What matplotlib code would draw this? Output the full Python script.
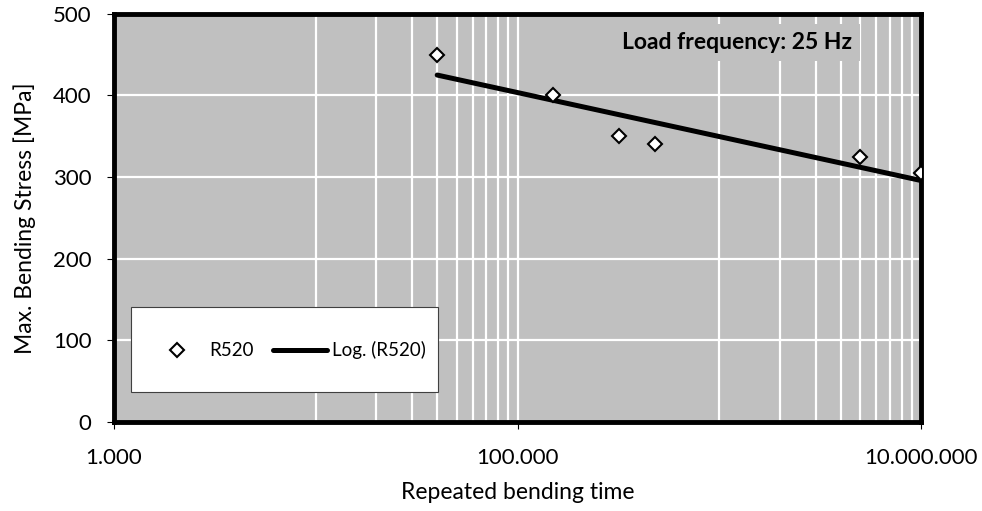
import numpy as np
import matplotlib
matplotlib.use("Agg")
import matplotlib.pyplot as plt
from matplotlib.ticker import FixedLocator, FuncFormatter, NullLocator
from matplotlib.patches import Rectangle

plt.rcParams['font.family'] = ['Lato', 'DejaVu Sans']

# data
cycles = [40000, 150000, 320000, 480000, 5000000, 10000000]
stress = [450, 400, 350, 340, 325, 305]
series_name = "R520"
note = "Load frequency: 25 Hz"

# logarithmic trend line (Excel "Log." trend)
b, a = np.polyfit(np.log(cycles), stress, 1)
xfit = np.array([min(cycles), max(cycles)])
yfit = a + b*np.log(xfit)

fig = plt.figure(figsize=(9.82, 5.11), dpi=100)
ax = fig.add_axes([0.116, 0.174, 0.822, 0.799])
ax.set_facecolor('#C0C0C0')

ax.plot(xfit, yfit, color='black', lw=3.6, solid_capstyle='round', zorder=3,
        label="Log. (" + series_name + ")")
ax.plot(cycles, stress, ls='none', marker='D', ms=7.5, mfc='white', mec='black',
        mew=1.5, zorder=4, label=series_name)

ax.set_xscale('log')
ax.set_xlim(1000, 10000000)
ax.set_ylim(0, 500)

ax.xaxis.set_major_locator(FixedLocator([1e3, 1e5, 1e7]))
ax.xaxis.set_minor_locator(FixedLocator([k*10**e for e in (4, 6) for k in range(1, 10)]))
ax.xaxis.set_major_formatter(FuncFormatter(lambda v, p: f"{int(round(v)):,}".replace(",", ".")))
ax.xaxis.set_minor_formatter(FuncFormatter(lambda v, p: ""))
ax.set_yticks([0, 100, 200, 300, 400, 500])
ax.yaxis.set_minor_locator(NullLocator())

ax.set_axisbelow(True)
ax.grid(True, which='both', axis='x', color='white', lw=1.6)
ax.grid(True, which='major', axis='y', color='white', lw=1.6)

for s in ax.spines.values():
    s.set_linewidth(3.5)
    s.set_color('black')

ax.tick_params(axis='both', which='major', direction='out', length=5, width=0.8,
               labelsize=16, colors='black')
ax.tick_params(axis='x', which='major', pad=14)
ax.tick_params(axis='y', which='major', pad=11)
ax.tick_params(axis='x', which='minor', length=0)

ax.set_xlabel("Repeated bending time", fontsize=16.5, labelpad=10)
ax.set_ylabel("Max. Bending Stress [MPa]", fontsize=16.5, labelpad=12)

ax.text(0.772, 0.9135, note, transform=ax.transAxes, ha='center', va='baseline',
        fontsize=16.5, fontweight='bold', zorder=1.5,
        bbox=dict(boxstyle='square,pad=0.35', fc='#C0C0C0', ec='none'))

# legend box
ax.add_patch(Rectangle((0.021, 0.074), 0.38, 0.208, transform=ax.transAxes,
                       fc='white', ec='#404040', lw=0.8, zorder=5))
h, l = ax.get_legend_handles_labels()
leg = ax.legend([h[1], h[0]], [l[1], l[0]], loc='center', bbox_to_anchor=(0.2156, 0.176),
                ncol=2, frameon=False, fontsize=13.5, handlelength=2.9,
                handletextpad=0.27, columnspacing=1.0, markerscale=0.9)
leg.set_zorder(6)

fig.savefig("out.png", dpi=100)
